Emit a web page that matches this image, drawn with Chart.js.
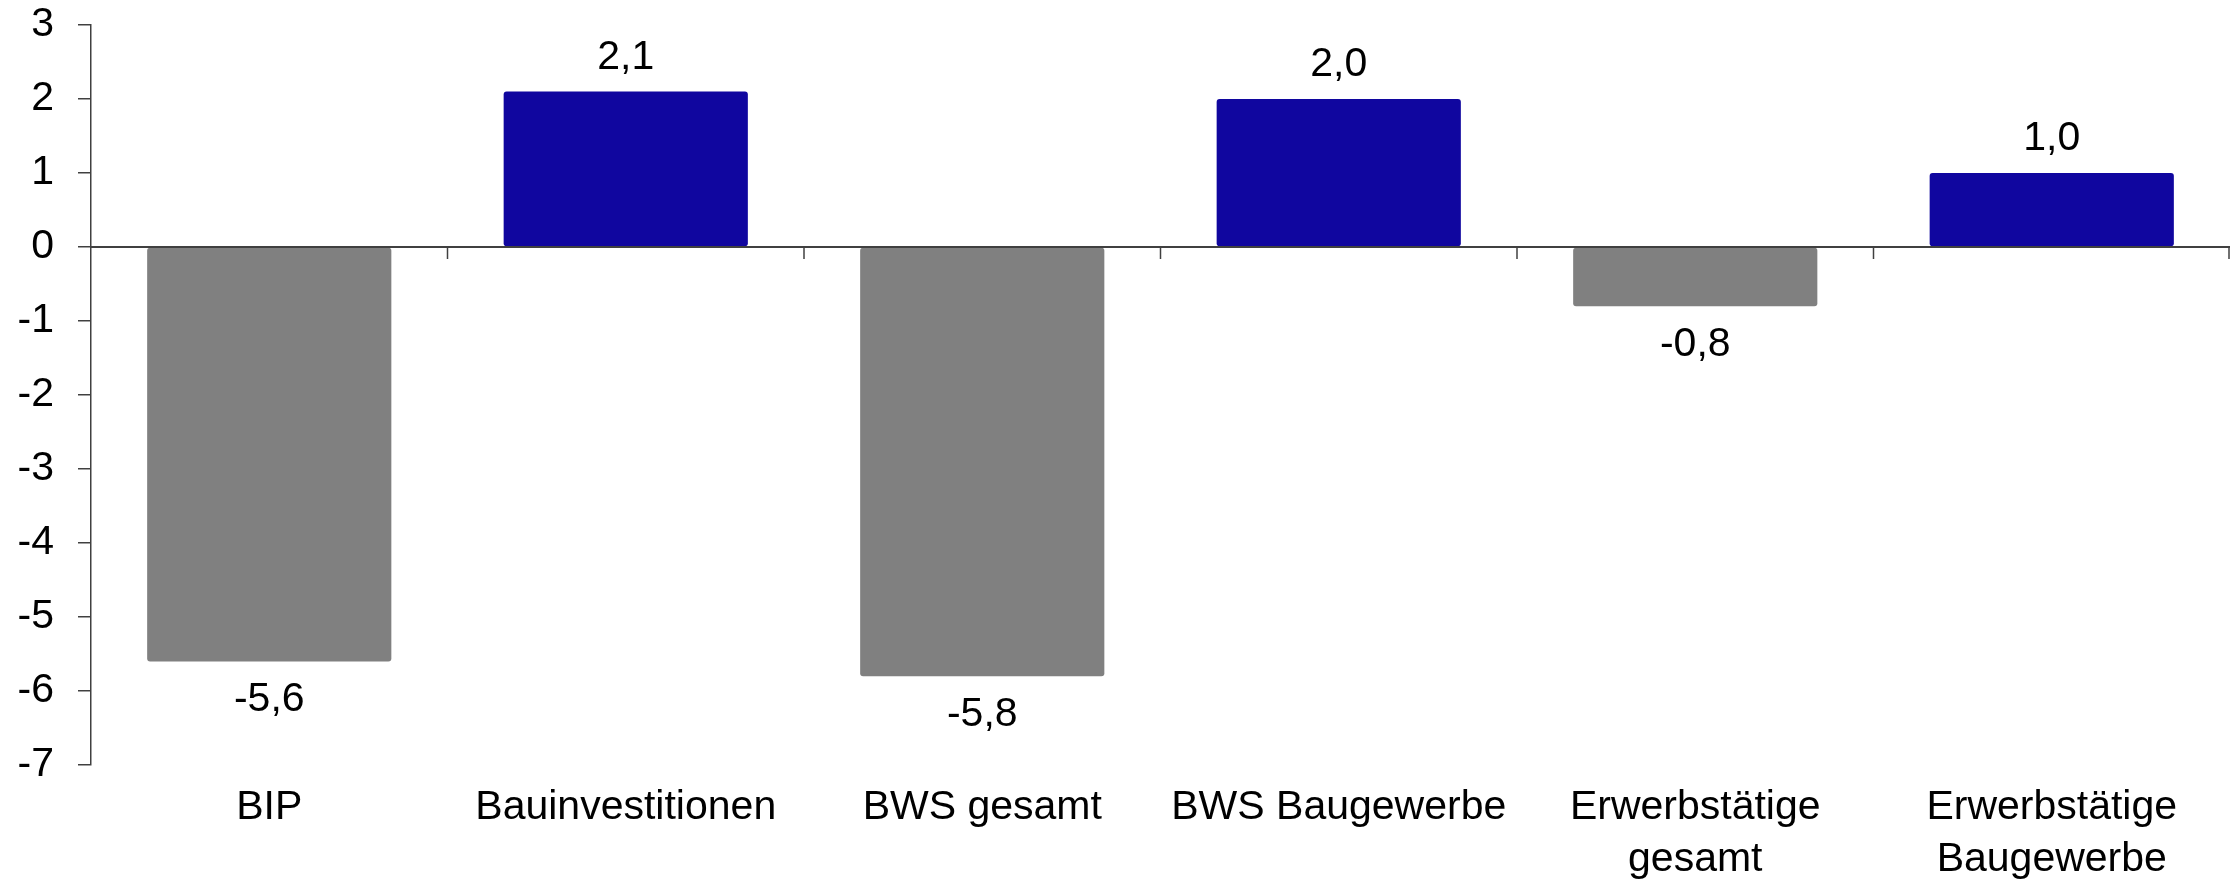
<!DOCTYPE html>
<html>
<head>
<meta charset="utf-8">
<script src="https://cdn.jsdelivr.net/npm/chart.js@4/dist/chart.umd.min.js"></script>
<style>
  html, body { margin: 0; padding: 0; background: #fff; }
  #wrap { width: 2231px; height: 879px; position: relative; }
</style>
</head>
<body>
<div id="wrap"><canvas id="chart"></canvas></div>
<script>
// Veränderung gegenüber Vorjahr in %
const categories = [
  'BIP',
  'Bauinvestitionen',
  'BWS gesamt',
  'BWS Baugewerbe',
  ['Erwerbstätige', 'gesamt'],
  ['Erwerbstätige', 'Baugewerbe'],
];
const values = [-5.6, 2.1, -5.8, 2.0, -0.8, 1.0];
const yTicks = [3, 2, 1, 0, -1, -2, -3, -4, -5, -6, -7];

const GREY = '#808080';
const BLUE = '#10069F';
const AXIS = '#404040';
const FONT = "'Liberation Sans', Arial, sans-serif";

const fmt = v => v.toFixed(1).replace('.', ',');

// value labels above / below bars
const valueLabels = {
  id: 'valueLabels',
  afterDatasetsDraw(chart) {
    const ctx = chart.ctx;
    const meta = chart.getDatasetMeta(0);
    ctx.save();
    ctx.font = '41px ' + FONT;
    ctx.fillStyle = '#000';
    ctx.textAlign = 'center';
    ctx.textBaseline = 'middle';
    meta.data.forEach((bar, i) => {
      const v = values[i];
      const y = v >= 0 ? bar.y - 34 : bar.y + 38;
      ctx.fillText(fmt(v), bar.x, y);
    });
    ctx.restore();
  }
};

// category separators hanging below the zero line
const zeroTicks = {
  id: 'zeroTicks',
  afterDatasetsDraw(chart) {
    const x = chart.scales.x, y = chart.scales.y;
    const y0 = y.getPixelForValue(0);
    const ctx = chart.ctx;
    ctx.save();
    ctx.strokeStyle = AXIS;
    ctx.lineWidth = 1.5;
    for (let i = 1; i <= categories.length; i++) {
      const px = i === categories.length
        ? chart.chartArea.right - 1
        : (x.getPixelForValue(i - 1) + x.getPixelForValue(i)) / 2;
      ctx.beginPath();
      ctx.moveTo(px, y0);
      ctx.lineTo(px, y0 + 12);
      ctx.stroke();
    }
    // zero line on top of bars
    ctx.lineWidth = 2;
    ctx.beginPath();
    ctx.moveTo(chart.chartArea.left, y0);
    ctx.lineTo(chart.chartArea.right, y0);
    ctx.stroke();
    ctx.restore();
  }
};

new Chart(document.getElementById('chart'), {
  type: 'bar',
  data: {
    labels: categories,
    datasets: [{
      data: values,
      backgroundColor: values.map(v => v < 0 ? GREY : BLUE),
      borderRadius: 3,
      borderSkipped: false,
      barPercentage: 0.685,
      categoryPercentage: 1,
    }],
  },
  options: {
    responsive: true,
    maintainAspectRatio: false,
    animation: false,
    layout: { padding: { top: 25, right: 1, left: 0, bottom: 0 } },
    plugins: {
      legend: { display: false },
      tooltip: { enabled: false },
    },
    scales: {
      x: {
        grid: { display: false, drawTicks: false },
        border: { display: false },
        ticks: {
          color: '#000',
          font: { family: FONT, size: 41, lineHeight: 1.27 },
          padding: 17,
          maxRotation: 0,
          autoSkip: false,
        },
        afterFit: s => { s.height = 114; },
      },
      y: {
        min: -7,
        max: 3,
        afterBuildTicks: s => { s.ticks = yTicks.map(v => ({ value: v })); },
        grid: {
          drawOnChartArea: false,
          tickLength: 13,
          tickColor: AXIS,
          lineWidth: 1.5,
        },
        border: { display: true, color: AXIS, width: 1.5 },
        ticks: {
          color: '#000',
          font: { family: FONT, size: 41 },
          padding: 24,
          callback: v => String(v),
        },
        afterFit: s => { s.width = 91; s.paddingTop = 0; s.paddingBottom = 0; },
      },
    },
  },
  plugins: [valueLabels, zeroTicks],
});
</script>
</body>
</html>
